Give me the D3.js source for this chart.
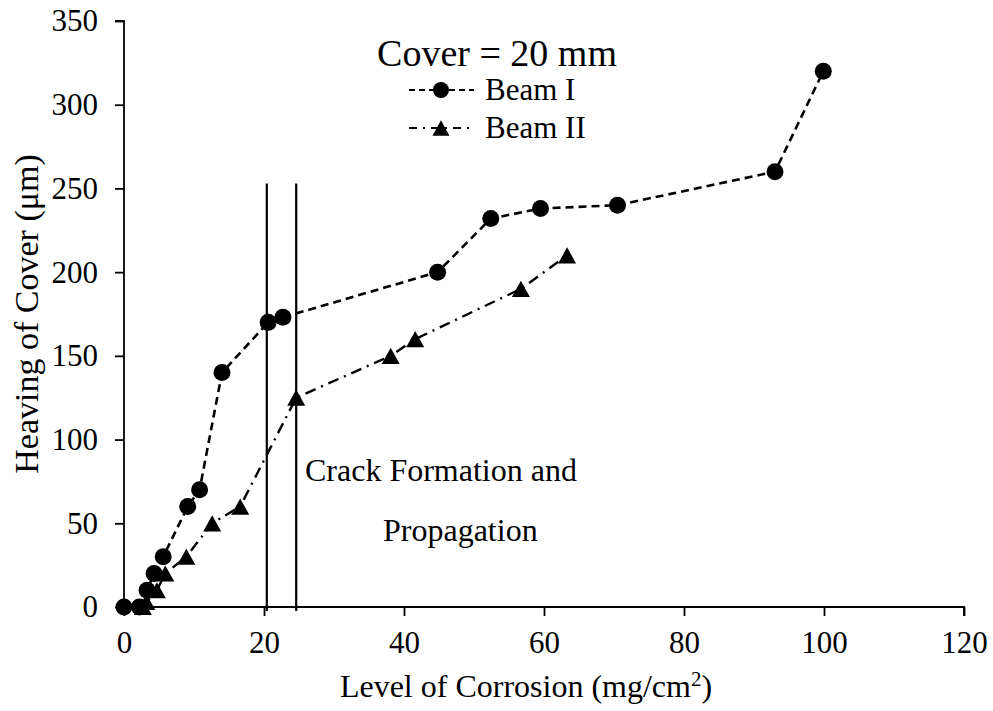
<!DOCTYPE html>
<html>
<head>
<meta charset="utf-8">
<script src="https://cdn.jsdelivr.net/npm/d3@7"></script>
<style>
  body { margin: 0; background: #fff; }
  svg text { font-family: "Liberation Serif", "Times New Roman", serif; fill: #000; }
</style>
</head>
<body>
<svg id="chart" width="993" height="711"></svg>
<script>
// corrosion level (mg/cm2) and heaving of cover (um)
var beam1X = [0, 2.2, 3.3, 4.3, 5.6, 9.1, 10.8, 14, 20.6, 22.7, 44.8, 52.4, 59.5, 70.5, 93, 99.9];
var beam1Y = [0, 0, 10, 20, 30, 60, 70, 140, 170, 173, 200, 232, 238, 240, 260, 320];
var beam2X = [2.7, 3.2, 4.7, 5.9, 8.9, 12.6, 16.6, 24.6, 38.1, 41.6, 56.7, 63.3];
var beam2Y = [0, 3, 10, 20, 30, 50, 60, 125, 150, 160, 190, 210];
var crackLinesX = [20.4, 24.6];
var crackTop = 253;
var xTicks = [0, 20, 40, 60, 80, 100, 120];
var yTicks = [0, 50, 100, 150, 200, 250, 300, 350];

var svg = d3.select("#chart");

var x = d3.scaleLinear().domain([0, 120]).range([124, 964]);
var y = d3.scaleLinear().domain([0, 350]).range([607, 21]);

// axes
var xAxis = svg.append("g")
  .attr("transform", "translate(0," + y(0) + ")")
  .call(d3.axisBottom(x).tickValues(xTicks).tickSize(9).tickPadding(15));
var yAxis = svg.append("g")
  .attr("transform", "translate(" + x(0) + ",0)")
  .call(d3.axisLeft(y).tickValues(yTicks).tickSize(9).tickPadding(17));
[xAxis, yAxis].forEach(function(a){
  a.select(".domain").attr("stroke", "#000").attr("stroke-width", 1.8);
  a.selectAll(".tick line").attr("stroke", "#000").attr("stroke-width", 1.8);
  a.selectAll(".tick text").style("font-size", "31px").attr("fill", "#000");
});
xAxis.select(".domain").attr("d", "M" + x(0) + ",0H" + x(120) + "V9");
yAxis.select(".domain").attr("d", "M-9," + y(350) + "H0V" + y(0));

// crack formation lines
svg.append("g").selectAll("line")
  .data(crackLinesX)
  .join("line")
  .attr("x1", d => x(d)).attr("x2", d => x(d))
  .attr("y1", y(crackTop)).attr("y2", y(0) + 4)
  .attr("stroke", "#000").attr("stroke-width", 2.2);

var line = d3.line().x(d => x(d[0])).y(d => y(d[1]));
var beam1 = beam1X.map((v, i) => [v, beam1Y[i]]);
var beam2 = beam2X.map((v, i) => [v, beam2Y[i]]);

svg.append("path").datum(beam2).attr("d", line)
  .attr("fill", "none").attr("stroke", "#000").attr("stroke-width", 2.4)
  .attr("stroke-dasharray", "11,6,2,6");
svg.append("path").datum(beam1).attr("d", line)
  .attr("fill", "none").attr("stroke", "#000").attr("stroke-width", 2.6)
  .attr("stroke-dasharray", "8,5");

function tri(cx, cy, s) {
  var h = s * 0.9;
  return "M" + cx + "," + (cy - h / 2) + "L" + (cx + s / 2) + "," + (cy + h / 2) + "L" + (cx - s / 2) + "," + (cy + h / 2) + "Z";
}

svg.append("g").selectAll("path")
  .data(beam2).join("path")
  .attr("d", d => tri(x(d[0]), y(d[1]), 18))
  .attr("fill", "#000");
svg.append("g").selectAll("circle")
  .data(beam1).join("circle")
  .attr("cx", d => x(d[0])).attr("cy", d => y(d[1]))
  .attr("r", 8.5).attr("fill", "#000");

// titles
svg.append("text")
  .attr("x", 526).attr("y", 697)
  .attr("text-anchor", "middle").style("font-size", "32px")
  .html('Level of Corrosion (mg/cm<tspan dy="-11" style="font-size:21px">2</tspan><tspan dy="11">)</tspan>');
svg.append("text")
  .attr("transform", "translate(38,314) rotate(-90)")
  .attr("text-anchor", "middle").style("font-size", "34px")
  .text("Heaving of Cover (μm)");

svg.append("text")
  .attr("x", 497).attr("y", 66)
  .attr("text-anchor", "middle").style("font-size", "38px")
  .text("Cover = 20 mm");

// legend
var legend = svg.append("g");
legend.append("line").attr("x1", 409).attr("x2", 474).attr("y1", 90).attr("y2", 90)
  .attr("stroke", "#000").attr("stroke-width", 2.2).attr("stroke-dasharray", "6,4");
legend.append("circle").attr("cx", 441).attr("cy", 90).attr("r", 8).attr("fill", "#000");
legend.append("text").attr("x", 485).attr("y", 100).style("font-size", "31px").text("Beam I");
legend.append("line").attr("x1", 409).attr("x2", 474).attr("y1", 128).attr("y2", 128)
  .attr("stroke", "#000").attr("stroke-width", 2.2).attr("stroke-dasharray", "8,6,2,6");
legend.append("path").attr("d", tri(441, 128, 17)).attr("fill", "#000");
legend.append("text").attr("x", 485).attr("y", 138).style("font-size", "31px").text("Beam II");

// annotation
svg.append("text").attr("x", 305).attr("y", 481).style("font-size", "32px").text("Crack Formation and");
svg.append("text").attr("x", 383).attr("y", 541).style("font-size", "32px").text("Propagation");
</script>
</body>
</html>
